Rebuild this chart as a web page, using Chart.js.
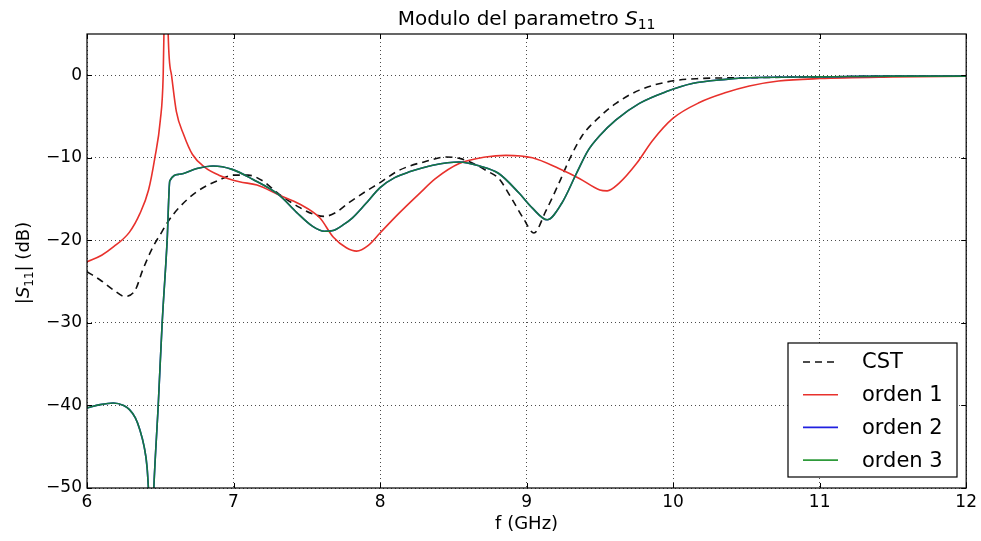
<!DOCTYPE html>
<html>
<head>
<meta charset="utf-8">
<script src="https://cdn.jsdelivr.net/npm/chart.js@4.4.0/dist/chart.umd.min.js"></script>
<style>
  html, body { margin: 0; padding: 0; background: #fff; }
  #wrap { width: 981px; height: 541px; position: relative; }
</style>
</head>
<body>
<div id="wrap"><canvas id="chart"></canvas></div>
<script>
// data
const cstF = [6.0, 6.09, 6.18, 6.26, 6.33, 6.38, 6.45, 6.51, 6.55, 6.63, 6.75, 6.9, 7.0, 7.1, 7.2, 7.31,
  7.45, 7.54, 7.62, 7.7, 7.79, 7.9, 8.0, 8.11, 8.2, 8.3, 8.45, 8.55, 8.65, 8.73, 8.81, 8.9, 8.98, 9.05,
  9.13, 9.22, 9.3, 9.38, 9.5, 9.61, 9.77, 9.99, 10.18, 10.5, 11.0, 11.5, 12.0];
const cstDb = [-23.8, -24.8, -26.0, -26.8, -26.0, -23.6, -20.8, -19.0, -17.8, -16.0, -14.1, -12.7, -12.1, -12.1, -12.8, -14.4,
  -16.0, -16.8, -17.1, -16.6, -15.4, -14.1, -13.0, -11.7, -11.0, -10.5, -9.9, -10.1, -10.8, -11.6, -12.5, -15.0, -17.4, -19.1,
  -16.5, -13.1, -9.9, -7.3, -5.0, -3.4, -1.8, -0.7, -0.4, -0.3, -0.2, -0.1, -0.1];

const ord1F = [6.0, 6.1, 6.18, 6.29, 6.36, 6.42, 6.463, 6.5, 6.52, 6.525, 6.54, 6.554, 6.577, 6.61, 6.66, 6.72,
  6.8, 6.9, 7.04, 7.16, 7.31, 7.45, 7.59, 7.68, 7.77, 7.84, 7.92, 8.0, 8.13, 8.27, 8.38, 8.54, 8.72, 8.86,
  9.04, 9.22, 9.36, 9.5, 9.55, 9.63, 9.75, 9.86, 10.0, 10.18, 10.36, 10.52, 10.72, 11.0, 11.5, 12.0];
const ord1Db = [-22.6, -21.8, -20.8, -19.0, -16.8, -13.9, -10.0, -5.5, 0, 5, 25, 5, 0, -4.4, -7.2, -9.6,
  -11.1, -12.1, -12.9, -13.3, -14.5, -15.6, -17.3, -19.6, -20.9, -21.3, -20.6, -19.1, -16.7, -14.3, -12.5, -10.7, -9.9, -9.7,
  -10.0, -11.3, -12.5, -13.9, -14.0, -13.1, -10.7, -7.9, -5.2, -3.3, -2.1, -1.3, -0.7, -0.4, -0.2, -0.1];

const ord3F = [6.0, 6.09, 6.18, 6.25, 6.29, 6.33, 6.36, 6.39, 6.41, 6.425, 6.44, 6.456, 6.486, 6.513, 6.547, 6.565,
  6.63, 6.75, 6.86, 6.99, 7.13, 7.31, 7.43, 7.54, 7.62, 7.68, 7.75, 7.81, 7.9, 8.0, 8.1, 8.2, 8.36, 8.54,
  8.68, 8.81, 8.95, 9.04, 9.14, 9.24, 9.34, 9.42, 9.5, 9.61, 9.77, 9.95, 10.13, 10.36, 10.52, 11.0, 11.5, 12.0];
const ord3Db = [-40.3, -39.9, -39.7, -40.0, -40.5, -41.5, -42.9, -45.0, -47.5, -52.0, -58.0, -50.0, -40.0, -30.0, -20.0, -12.8,
  -12.0, -11.3, -11.0, -11.4, -12.6, -14.5, -16.6, -18.3, -18.9, -18.8, -18.1, -17.3, -15.6, -13.6, -12.4, -11.7, -10.9, -10.5,
  -11.0, -11.9, -14.3, -16.1, -17.5, -15.5, -11.9, -9.1, -7.3, -5.4, -3.4, -2.0, -1.0, -0.5, -0.3, -0.2, -0.1, -0.1];

// orden 2 lies under orden 3 everywhere in the picture
const ord2F = ord3F;
const ord2Db = ord3Db;

const xTicks = [6, 7, 8, 9, 10, 11, 12];
const yTicks = [-50, -40, -30, -20, -10, 0];

const seriesNames = ["CST", "orden 1", "orden 2", "orden 3"];
const seriesColors = ["#111111", "#e8312c", "#2020e0", "#15793d"];

const FONT = "'DejaVu Sans', sans-serif";

function pts(xs, ys) {
  return xs.map((x, i) => ({x: x, y: ys[i]}));
}

function minus(v) {
  return String(v).replace("-", "\u2212");
}

// frame, inner ticks, title, axis labels and legend in matplotlib style
const decorations = {
  id: "decorations",
  afterDatasetsDraw(chart) {
    const {ctx, chartArea: a, scales} = chart;
    ctx.save();
    ctx.strokeStyle = "#000";
    ctx.lineWidth = 1.2;
    ctx.setLineDash([]);
    ctx.strokeRect(a.left, a.top, a.right - a.left, a.bottom - a.top);

    ctx.lineWidth = 1;
    ctx.beginPath();
    xTicks.forEach((t) => {
      const px = Math.round(scales.x.getPixelForValue(t)) + 0.5;
      ctx.moveTo(px, a.bottom); ctx.lineTo(px, a.bottom - 5);
      ctx.moveTo(px, a.top); ctx.lineTo(px, a.top + 5);
    });
    yTicks.forEach((t) => {
      const py = Math.round(scales.y.getPixelForValue(t)) + 0.5;
      ctx.moveTo(a.left, py); ctx.lineTo(a.left + 5, py);
      ctx.moveTo(a.right, py); ctx.lineTo(a.right - 5, py);
    });
    ctx.stroke();

    // title
    ctx.fillStyle = "#000";
    ctx.textBaseline = "alphabetic";
    const cx = (a.left + a.right) / 2;
    const tMain = "Modulo del parametro ";
    ctx.font = "20px " + FONT;
    const w1 = ctx.measureText(tMain).width;
    ctx.font = "italic 20px " + FONT;
    const w2 = ctx.measureText("S").width;
    ctx.font = "14px " + FONT;
    const w3 = ctx.measureText("11").width;
    let x0 = cx - (w1 + w2 + w3) / 2;
    ctx.textAlign = "left";
    ctx.font = "20px " + FONT;
    ctx.fillText(tMain, x0, 25);
    ctx.font = "italic 20px " + FONT;
    ctx.fillText("S", x0 + w1, 25);
    ctx.font = "14px " + FONT;
    ctx.fillText("11", x0 + w1 + w2, 29);

    // x label
    ctx.font = "18px " + FONT;
    ctx.textAlign = "center";
    ctx.fillText("f (GHz)", cx, 529);

    // y label, rotated
    ctx.save();
    ctx.translate(29, (a.top + a.bottom) / 2 + 2);
    ctx.rotate(-Math.PI / 2);
    ctx.textAlign = "left";
    ctx.font = "18px " + FONT;
    const p1 = "|", p3 = "| (dB)";
    const q1 = ctx.measureText(p1).width;
    ctx.font = "italic 18px " + FONT;
    const q2 = ctx.measureText("S").width;
    ctx.font = "12px " + FONT;
    const q3 = ctx.measureText("11").width;
    ctx.font = "18px " + FONT;
    const q4 = ctx.measureText(p3).width;
    let y0 = -(q1 + q2 + q3 + q4) / 2;
    ctx.fillText(p1, y0, 0);
    ctx.font = "italic 18px " + FONT;
    ctx.fillText("S", y0 + q1, 0);
    ctx.font = "12px " + FONT;
    ctx.fillText("11", y0 + q1 + q2, 4);
    ctx.font = "18px " + FONT;
    ctx.fillText(p3, y0 + q1 + q2 + q3, 0);
    ctx.restore();

    // legend box
    const lx = 788, ly = 343, lw = 169, lh = 134;
    ctx.fillStyle = "#fff";
    ctx.fillRect(lx, ly, lw, lh);
    ctx.strokeStyle = "#000";
    ctx.lineWidth = 1.2;
    ctx.strokeRect(lx, ly, lw, lh);
    ctx.font = "21px " + FONT;
    ctx.textAlign = "left";
    ctx.textBaseline = "middle";
    seriesNames.forEach((name, i) => {
      const yy = 362 + i * 32.7;
      ctx.strokeStyle = i === 3 ? "#2e9a3a" : seriesColors[i];
      ctx.lineWidth = 1.6;
      ctx.setLineDash(i === 0 ? [7, 5] : []);
      ctx.beginPath();
      ctx.moveTo(803, yy); ctx.lineTo(838, yy);
      ctx.stroke();
      ctx.setLineDash([]);
      ctx.fillStyle = "#000";
      ctx.fillText(name, 862, yy + 1);
    });
    ctx.restore();
  }
};

const lineBase = {
  fill: false,
  pointRadius: 0,
  borderWidth: 1.6,
  cubicInterpolationMode: "monotone",
};

new Chart(document.getElementById("chart"), {
  type: "line",
  data: {
    datasets: [
      Object.assign({}, lineBase, {label: seriesNames[0], data: pts(cstF, cstDb), borderColor: seriesColors[0], borderDash: [7, 5], order: 4}),
      Object.assign({}, lineBase, {label: seriesNames[1], data: pts(ord1F, ord1Db), borderColor: seriesColors[1], order: 3}),
      Object.assign({}, lineBase, {label: seriesNames[2], data: pts(ord2F, ord2Db), borderColor: seriesColors[2], order: 2}),
      Object.assign({}, lineBase, {label: seriesNames[3], data: pts(ord3F, ord3Db), borderColor: seriesColors[3], order: 1}),
    ],
  },
  options: {
    responsive: true,
    maintainAspectRatio: false,
    animation: false,
    layout: {padding: {left: 0, right: 13, top: 34, bottom: 0}},
    plugins: {
      legend: {display: false},
      title: {display: false},
      tooltip: {enabled: false},
    },
    scales: {
      x: {
        type: "linear",
        min: 6,
        max: 12,
        ticks: {stepSize: 1, color: "#000", font: {family: FONT, size: 17}, padding: 4, maxRotation: 0,
          callback: (v) => minus(v)},
        grid: {color: "rgba(0,0,0,0.7)", lineWidth: 1, drawTicks: false},
        border: {display: false, dash: [1, 3]},
        afterFit: (s) => { s.height = 53; },
      },
      y: {
        type: "linear",
        min: -50,
        max: 5,
        ticks: {stepSize: 10, color: "#000", font: {family: FONT, size: 17}, padding: 5,
          callback: (v) => minus(v)},
        afterBuildTicks: (s) => { s.ticks = s.ticks.filter((t) => t.value <= 0); },
        grid: {color: "rgba(0,0,0,0.7)", lineWidth: 1, drawTicks: false},
        border: {display: false, dash: [1, 3]},
        afterFit: (s) => { s.width = 87; },
      },
    },
  },
  plugins: [decorations],
});
</script>
</body>
</html>
